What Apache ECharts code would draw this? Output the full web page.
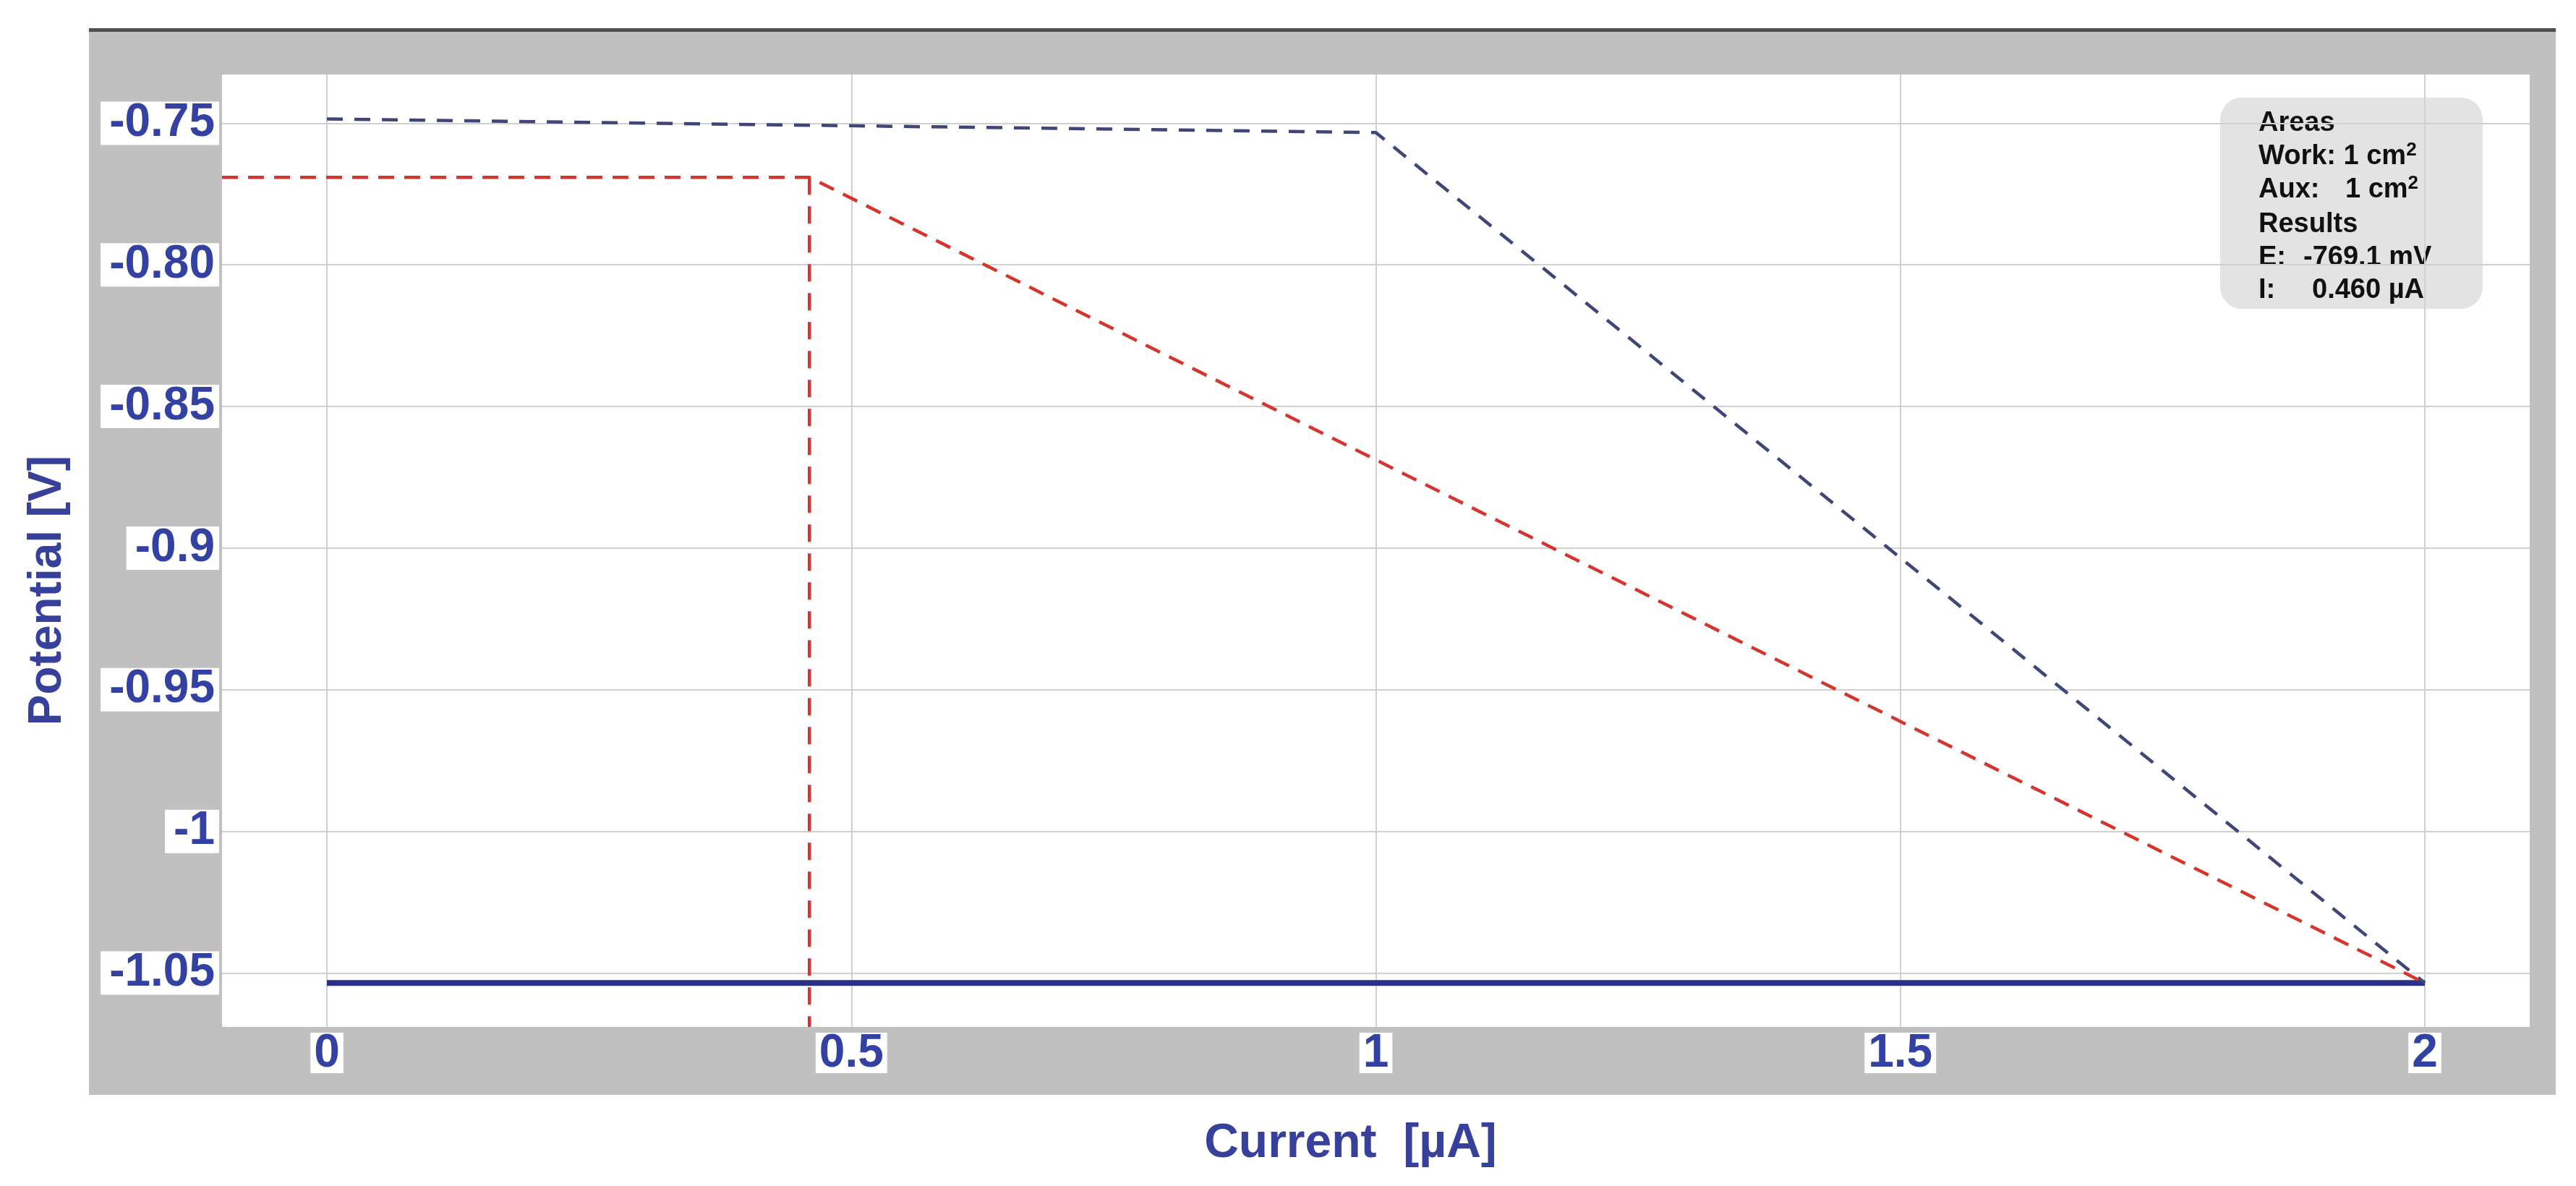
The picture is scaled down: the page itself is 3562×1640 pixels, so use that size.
<!DOCTYPE html>
<html>
<head>
<meta charset="utf-8">
<title>Potential vs Current</title>
<script src="https://cdn.jsdelivr.net/npm/echarts@6/dist/echarts.min.js"></script>
<style>
  html, body { margin: 0; padding: 0; background: #fff; }
  #chart { width: 3562px; height: 1640px; }
</style>
</head>
<body>
<div id="chart"></div>
<script>
// ---------- data ----------
const xTicks = [0, 0.5, 1, 1.5, 2]
const xTickLabels = ['0', '0.5', '1', '1.5', '2']
const yTicks = [-0.75, -0.8, -0.85, -0.9, -0.95, -1, -1.05]
const yTickLabels = ['-0.75', '-0.80', '-0.85', '-0.9', '-0.95', '-1', '-1.05']

// solid baseline (current µA, potential V)
const baseI = [0, 2]
const baseE = [-1.0535, -1.0535]
// dashed blue trace
const traceI = [0, 1, 2]
const traceE = [-0.7485, -0.7533, -1.0535]
// red construction lines
const redSlopeI = [-0.1, 0.46, 2]
const redSlopeE = [-0.7691, -0.7691, -1.0535]
const redDropI = [0.46, 0.46]
const redDropE = [-0.7691, -1.069]

// results box
const areaWork = 1 // cm²
const areaAux = 1 // cm²
const resultE = -769.1 // mV
const resultI = 0.460 // µA

// ---------- styling ----------
const FONT = '"Liberation Sans", Arial, sans-serif'
const BLUE_TXT = '#3341a3'
const TITLE_TXT = '#37409a'
const RED = '#d4352e'

const zip = (a, b) => a.map((v, i) => [v, b[i]])
const pick = (ticks, labels) => v => {
  const i = ticks.findIndex(t => Math.abs(t - v) < 1e-9)
  return i >= 0 ? labels[i] : ''
}

const tickLabel = {
  color: BLUE_TXT,
  fontFamily: FONT,
  fontWeight: 'bold',
  fontSize: 64,
  backgroundColor: '#fff'
}

const infoRich = {
  t: { fill: '#111', font: `bold 38px ${FONT}`, lineHeight: 44 },
  s: { fill: '#111', font: `bold 26px ${FONT}`, lineHeight: 44, verticalAlign: 'top' }
}
const infoText = (x, y, text) => ({
  type: 'text',
  x, y,
  style: { text, rich: infoRich, verticalAlign: 'middle' }
})

const chart = echarts.init(document.getElementById('chart'))

chart.setOption({
  animation: false,
  backgroundColor: '#fff',
  grid: {
    left: 307, right: 64, top: 103, bottom: 220,
    show: true, backgroundColor: '#fff', borderWidth: 0
  },
  xAxis: {
    type: 'value',
    min: -0.1,
    max: 2.1,
    name: 'Current  [µA]',
    nameLocation: 'middle',
    nameGap: 129,
    nameTextStyle: { color: TITLE_TXT, fontFamily: FONT, fontWeight: 'bold', fontSize: 66, padding: [0, 70, 0, 0] },
    axisLine: { show: false },
    axisTick: { show: false, customValues: xTicks },
    axisLabel: {
      ...tickLabel,
      customValues: xTicks,
      formatter: pick(xTicks, xTickLabels),
      margin: 8,
      padding: [4, 5, 2, 5],
      lineHeight: 50
    },
    splitLine: { show: true, lineStyle: { color: '#d0d0d0', width: 2 } }
  },
  yAxis: {
    type: 'value',
    min: -1.069,
    max: -0.7328,
    name: 'Potential [V]',
    nameLocation: 'middle',
    nameRotate: 90,
    nameGap: 209,
    nameTextStyle: { color: TITLE_TXT, fontFamily: FONT, fontWeight: 'bold', fontSize: 64, padding: [0, 110, 0, 0] },
    axisLine: { show: false },
    axisTick: { show: false, customValues: yTicks },
    axisLabel: {
      ...tickLabel,
      customValues: yTicks,
      formatter: pick(yTicks, yTickLabels),
      margin: 4,
      padding: [6, 6, 4, 12],
      lineHeight: 50
    },
    splitLine: { show: true, lineStyle: { color: '#d0d0d0', width: 2 } }
  },
  series: [
    {
      name: 'baseline',
      type: 'line',
      data: zip(baseI, baseE),
      showSymbol: false,
      lineStyle: { color: '#2b2f86', width: 8 },
      z: 3
    },
    {
      name: 'trace',
      type: 'line',
      data: zip(traceI, traceE),
      showSymbol: false,
      lineStyle: { color: '#3f4678', width: 4.5, type: [22, 16] },
      z: 4
    },
    {
      name: 'tangent',
      type: 'line',
      data: zip(redSlopeI, redSlopeE),
      showSymbol: false,
      lineStyle: { color: RED, width: 4.5, type: [22, 14] },
      z: 5
    },
    {
      name: 'drop',
      type: 'line',
      data: zip(redDropI, redDropE),
      showSymbol: false,
      lineStyle: { color: RED, width: 4.5, type: [24, 16] },
      z: 5
    }
  ],
  graphic: [
    // gray instrument frame behind the plot
    { type: 'rect', z: -10, silent: true, shape: { x: 123, y: 41, width: 3411, height: 1473 }, style: { fill: '#c0c0c0' } },
    { type: 'rect', z: -9, silent: true, shape: { x: 123, y: 39, width: 3411, height: 5 }, style: { fill: '#4f4f4f' } },
    // results box
    {
      type: 'group',
      z: 100,
      children: [
        { type: 'rect', shape: { x: 3070, y: 135, width: 363, height: 292, r: 30 }, style: { fill: '#e3e3e3' } },
        infoText(3123, 171, '{t|Areas}'),
        infoText(3123, 217, `{t|Work: ${areaWork} cm}{s|2}`),
        infoText(3123, 263, '{t|Aux:}'),
        infoText(3243, 263, `{t|${areaAux} cm}{s|2}`),
        infoText(3123, 311, '{t|Results}'),
        infoText(3123, 357, '{t|E:}'),
        infoText(3185, 357, `{t|${resultE.toFixed(1)} mV}`),
        infoText(3123, 402, '{t|I:}'),
        infoText(3197, 402, `{t|${resultI.toFixed(3)} µA}`)
      ]
    }
  ]
})
</script>
</body>
</html>
